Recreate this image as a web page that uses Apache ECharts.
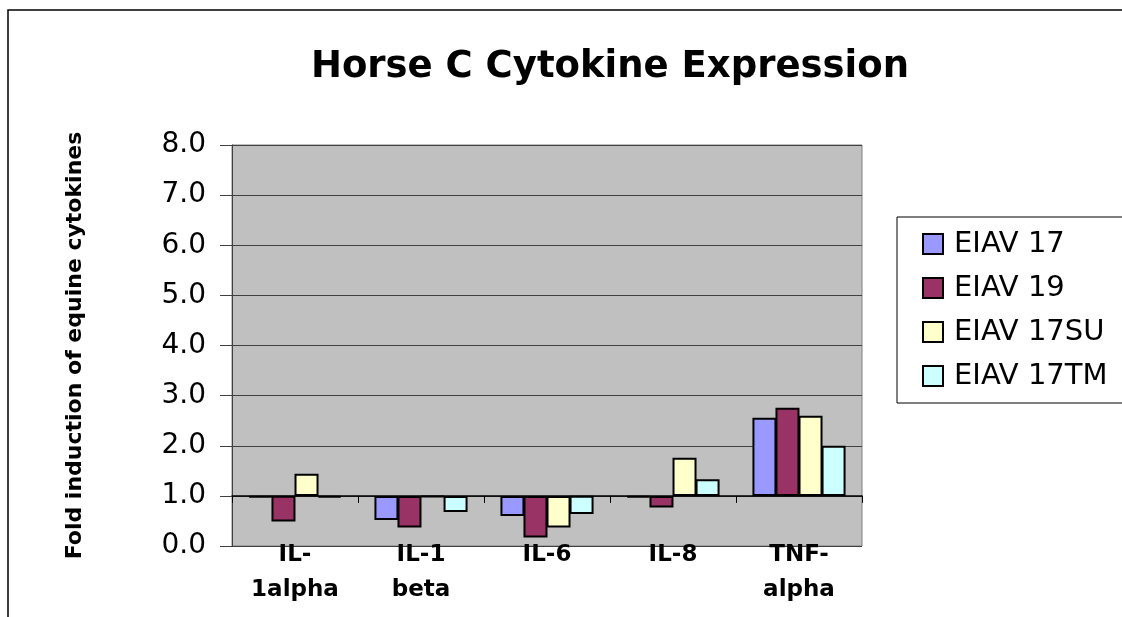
<!DOCTYPE html>
<html>
<head>
<meta charset="utf-8">
<script src="https://cdn.jsdelivr.net/npm/echarts@6/dist/echarts.min.js"></script>
<style>
  html, body { margin: 0; padding: 0; background: #fff; }
  #chart { width: 1122px; height: 617px; }
</style>
</head>
<body>
<div id="chart"></div>
<script>
// categories and fold-induction values
const categories = ['IL-\n1alpha', 'IL-1\nbeta', 'IL-6', 'IL-8', 'TNF-\nalpha']
const seriesNames = ['EIAV 17', 'EIAV 19', 'EIAV 17SU', 'EIAV 17TM']
const eiav17 = [0.97, 0.52, 0.60, 0.97, 2.56]
const eiav19 = [0.49, 0.37, 0.17, 0.77, 2.76]
const eiav17su = [1.44, 0.98, 0.37, 1.76, 2.60]
const eiav17tm = [0.97, 0.68, 0.64, 1.33, 2.00]
const colors = ['#9999FF', '#993366', '#FFFFCC', '#CCFFFF']
const baseline = 1.0

const font = 'DejaVu Sans, Arial, sans-serif'

// grid box (px)
const gridTop = 145
const gridBottom = 71
const plotH = 617 - gridTop - gridBottom
const yMax = 8

// bars grow from the 1.0 crossing line: stack a transparent base under each bar
const series = []
;[eiav17, eiav19, eiav17su, eiav17tm].forEach((vals, i) => {
    series.push({
        name: '_base' + i,
        type: 'bar',
        stack: 's' + i,
        silent: true,
        barWidth: 24,
        barGap: '-4%',
        itemStyle: { color: 'transparent', borderWidth: 0 },
        data: vals.map(v => Math.min(v, baseline)),
    })
    series.push({
        name: seriesNames[i],
        type: 'bar',
        stack: 's' + i,
        barWidth: 24,
        barGap: '-4%',
        itemStyle: { color: colors[i], borderColor: '#000', borderWidth: 2 },
        data: vals.map(v => Math.abs(v - baseline)),
    })
})

const chart = echarts.init(document.getElementById('chart'))
chart.setOption({
    animation: false,
    backgroundColor: '#fff',
    textStyle: { fontFamily: font },
    title: {
        text: 'Horse C Cytokine Expression',
        left: 605,
        top: 44,
        textAlign: 'center',
        textStyle: { fontSize: 37, fontWeight: 'bold', color: '#000', fontFamily: font },
    },
    legend: {
        data: seriesNames,
        orient: 'vertical',
        left: 897,
        top: 217,
        width: 240,
        padding: [12, 60, 12, 25],
        itemGap: 14,
        itemWidth: 20,
        itemHeight: 20,
        icon: 'rect',
        borderColor: '#000',
        borderWidth: 1,
        textStyle: { fontSize: 29, color: '#000', fontFamily: font, padding: [0, 0, 0, 6], lineHeight: 30 },
    },
    grid: { left: 232, right: 260, top: gridTop, bottom: gridBottom, show: true, backgroundColor: '#C0C0C0', borderColor: '#808080', borderWidth: 1 },
    xAxis: [{
        type: 'category',
        data: categories,
        axisLine: { show: false },
        axisTick: { show: false },
        axisLabel: { fontSize: 23, fontWeight: 'bold', color: '#000', lineHeight: 35, margin: -8, fontFamily: font },
    }, {
        // crossing line at 1.0 with its category ticks
        type: 'category',
        data: categories,
        position: 'bottom',
        offset: -plotH * baseline / yMax,
        axisLine: { show: true, lineStyle: { color: '#000', width: 1.5 } },
        axisTick: { show: true, length: 7, lineStyle: { color: '#000' } },
        axisLabel: { show: false },
    }],
    yAxis: {
        type: 'value',
        min: 0,
        max: yMax,
        interval: 1,
        name: 'Fold induction of equine cytokines',
        nameLocation: 'middle',
        nameGap: 146,
        nameTextStyle: { fontSize: 22, fontWeight: 'bold', color: '#000', fontFamily: font },
        axisLine: { show: true, lineStyle: { color: '#404040', width: 1 } },
        axisTick: { show: true, length: 12, lineStyle: { color: '#404040' } },
        axisLabel: { fontSize: 28, color: '#000', margin: 26, formatter: v => v.toFixed(1), fontFamily: font },
        splitLine: { lineStyle: { color: '#404040', width: 1 } },
    },
    graphic: [{
        type: 'polyline',
        shape: { points: [[8, 617], [8, 10], [1122, 10]] },
        style: { stroke: '#000', lineWidth: 1.5, fill: null },
        silent: true,
    }],
    series,
})
</script>
</body>
</html>
